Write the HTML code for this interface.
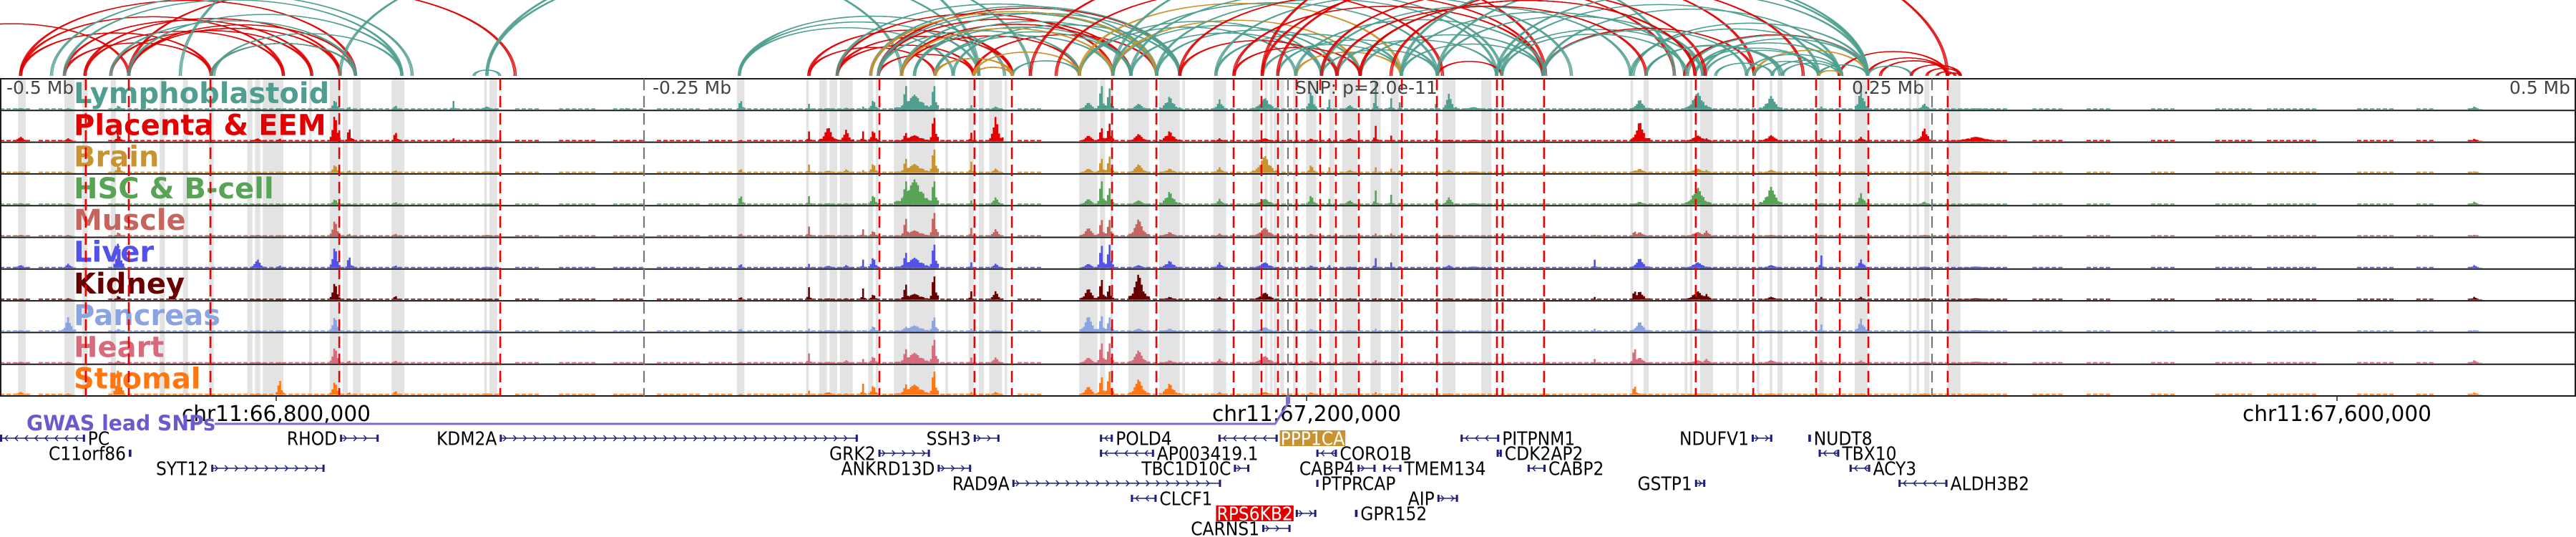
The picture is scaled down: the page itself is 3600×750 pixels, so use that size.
<!DOCTYPE html>
<html><head><meta charset="utf-8">
<style>
html,body{margin:0;padding:0;background:#fff;}
svg{display:block;}
</style></head>
<body>
<svg id="fig" xmlns="http://www.w3.org/2000/svg" width="3600" height="750" viewBox="0 0 3600 750">
<rect x="0" y="0" width="3600" height="750" fill="#fff"/>
<g id="arcs"></g>
<g id="bands"></g>
<g id="labels"></g>
<g id="tracks"></g>
<g id="frame"></g>
<g id="vlines"></g>
<g id="annot"></g>
<g id="genes"></g>
</svg>
<script>
// ---------- data ----------
const snpKb = 67192.78;            // lead SNP position (kb)
const windowKb = [-500, 500];      // window relative to SNP (kb)
const trackNames = ["Lymphoblastoid","Placenta & EEM","Brain","HSC & B-cell","Muscle","Liver","Kidney","Pancreas","Heart","Stromal"];
const trackColors = ["#4f9e8f","#e30000","#c9932f","#57a457","#c4665f","#5252e8","#680000","#8aa3e1","#d66b7b","#ff7613"];
const peakStart = [-495,-476,-456,-372,-366,-348,-403,-393,-325,-315,-258,-214,-187,-182,-174,-166,-163,-153,-150,-139,-133,-124,-116,-81,-74,-71,-62,-50,-29,-14,7,15,21,33,39,43,57,60,65,133,160,118,133,154,183,206,220,244,256,458];
const peakEnd   = [-489,-471,-452,-368,-363,-345,-397,-390,-323,-307,-256,-211,-185,-175,-169,-164,-159,-137,-147,-136,-132,-122,-111,-74,-71,-68,-54,-42,-24,-4,11,17,27,35,41,44,58,65,79,136,165,120,140,164,192,208,225,250,278,463];
const lymphoVals   = [.05,.05,.15,.35,.1,.15,.05,.05,.3,.1,.05,.35,.2,.05,.06,.1,.35,.5,1.0,1.0,.08,.15,.1,.25,1.0,.9,.2,.45,.35,.4,.7,.35,.15,1.0,.4,.45,.4,.55,.08,.1,.15,.05,.35,.6,.45,.1,.8,.2,.04,.1];
const placentaVals = [.15,.1,.25,1.0,.5,.35,.1,.1,.1,.05,.03,.05,.35,.5,.4,.35,.4,.2,.35,1.0,.05,.3,.85,.2,.55,.75,.25,.35,.1,.1,.1,.1,.1,.55,.2,.05,.2,.05,.05,.1,.1,.05,.7,.2,.2,.1,.15,.45,.15,.08];
const brainVals    = [.05,.05,.3,.3,.1,.1,.05,.05,.05,.05,.03,.15,.3,.08,.12,.1,.35,.3,.6,1.0,.05,.4,.15,.15,.6,.7,.3,.15,.2,.6,.3,.2,.1,.2,.15,.15,.1,.1,.05,.1,.1,.05,.15,.15,.1,.05,.05,.05,.05,.05];
const hscVals      = [.05,.05,.05,.2,.05,.1,.02,.02,.05,.03,.03,.35,.3,.05,.05,.05,.35,.85,1.0,1.0,.05,.15,.25,.2,1.0,.7,.15,.45,.2,.2,.35,.2,.15,.5,.35,.1,.3,.25,.05,.05,.1,.05,.1,.6,.6,.05,.4,.1,.03,.1];
const muscleVals   = [.05,.05,.15,.6,.1,.1,.05,.05,.02,.05,.02,.1,.35,.05,.05,.25,.2,.2,.75,1.0,.05,.3,.25,.3,.7,.7,.6,.15,.1,.3,.1,.05,.05,.1,.1,.05,.1,.05,.02,.2,.2,.05,.15,.15,.05,.05,.05,.05,.02,.05];
const liverVals    = [.1,.15,1.0,.8,.45,.1,.3,.1,.05,.05,.02,.15,.15,.08,.1,.3,.4,.35,.65,1.0,.05,.2,.15,.15,.95,1.0,.1,.25,.2,.2,.1,.1,.05,.35,.2,.1,.05,.1,.05,.05,.05,.3,.35,.2,.1,.45,.3,.05,.05,.1];
const kidneyVals   = [.03,.05,.15,.65,.05,.15,.03,.05,.02,.03,.02,.1,.45,.05,.05,.4,.2,.2,.65,1.0,.02,.3,.3,.4,.85,.6,.9,.1,.1,.25,.05,.05,.05,.05,.05,.05,.05,.05,.03,.35,.2,.1,.3,.3,.1,.1,.1,.05,.05,.1];
const pancreasVals = [.05,.5,.1,.55,.05,.05,.05,.05,.02,.05,.02,.1,.1,.05,.05,.05,.2,.2,.2,.6,.02,.1,.05,.55,.65,.6,.1,.1,.1,.15,.1,.05,.05,.1,.05,.05,.05,.05,.03,.05,.05,.1,.35,.1,.05,.25,.45,.05,.05,.05];
const heartVals    = [.05,.05,.1,.6,.1,.1,.05,.05,.03,.03,.02,.05,.35,.05,.1,.15,.25,.35,.6,1.0,.03,.2,.2,.2,.85,.85,.45,.1,.15,.25,.1,.05,.05,.1,.05,.05,.05,.05,.03,.6,.15,.15,.2,.1,.1,.1,.1,.05,.05,.1];
const stromalVals  = [.1,.05,1.0,.5,.1,.15,.05,.6,.02,.05,.03,.05,.15,.1,.05,.4,.35,.35,.45,1.0,.05,.1,.1,.3,.75,1.0,.55,.4,.1,.1,.1,.05,.05,.1,.05,.05,.05,.05,.03,.35,.05,.05,.05,.05,.05,.05,.05,.05,.03,.08];
const trackVals = [lymphoVals,placentaVals,brainVals,hscVals,muscleVals,liverVals,kidneyVals,pancreasVals,heartVals,stromalVals];
const bgLevel = [.06,.08,.08,.04,.04,.07,.05,.05,.05,.08];
const bgStart = [-500,-485,-458,-300,-283,-262,-245,-225,-210,-185,-105,-80,289,310,335,360,380,415,438,458];
const bgEnd   = [-489,-475,-306,-290,-270,-250,-230,-215,-185,-110,-95,278,300,320,345,375,400,428,445,463];
const bandStart = [-493,-475,-468,-457,-438,-429,-419,-404,-401,-398,-380,-372,-367,-363,-348,-312,-310,-309,-214,-187,-182,-178,-174,-163,-160,-153,-147,-133,-124,-120,-116,-110,-81,-73,-69,-62,-50,-41,-29,-14,-9,-7,-5.5,-3,2,7,16,21,32,40,60,75,133,138,154,156,160,174,182,187,190,206,220,241,244,247,256];
const bandEnd   = [-490,-471,-466,-455,-436,-427,-417,-402,-399,-390,-379,-368,-365,-360,-343,-311,-309,-307,-211,-186,-179,-175,-169,-161,-159,-148,-137,-132,-122,-118,-111,-109,-74,-71,-68,-54,-42,-40,-24,-11,-8,-6,-4.5,-1.5,3,11,18,27,36,43,65,79,134,140,155,157,165,175,183,188,192,208,225,242,245,249,261];
const snpLinePos = [-466.7,-450,-418.3,-368.3,-305.8,-158.6,-121.7,-107.2,-68.3,-51.1,-21.1,-10.3,-3.9,3.3,12.5,18.6,27.5,44.2,57.8,81.1,83.3,99.4,158.3,180.6,205,214.2,225.3,256.1];
const scaleLinePos = [-250,0,250];
const arcStart = [-492,-492,-475,-475,-467,-467,-457,-450,-450,-418,-492,-540,-450,-457,-475,-417,-418,-450,-368,-311,-311,-316,-213,-213,-213,-430,-480,
 -186,-175,-175,-162,-159,-159,-150,-137,-122,-122,-159,-186,-175,-150,-175,-162,-159,-150,-145,-137,-130,-159,-145,-137,-162,-150,-137,-122,-107,-122,
 -81,-81,-68,-68,-61,-51,-42,-28,-21,-10,-4,-68,-81,-51,-42,-61,3,13,19,28,44,58,-21,-10,-100,-68,3,13,28,-4,44,58,81,99,83,99,133,154,158,161,181,192,206,214,225,230,139,-28,-90,40,
 134,155,158,162,166,181,188,206,206,225,242,248,252,256,44,58,28,13,19,-10,81,99,83,139,178];
const arcEnd = [-418,-390,-418,-379,-390,-368,-379,-368,-362,-362,-362,-450,-300,-362,-344,-344,-362,-344,-150,-100,-120,-306,-130,-120,-110,-120,-340,
 -107,-107,-68,-51,-42,-61,-81,-107,-51,-107,-122,-137,-122,-61,-51,-42,-51,-42,-61,-68,-42,-81,-51,-61,-51,-68,-107,-81,-81,-107,
 3,13,19,28,13,28,19,44,28,44,58,58,44,81,99,83,44,58,81,99,99,83,99,150,100,150,100,133,158,181,154,161,161,181,206,214,214,225,206,225,225,214,225,256,256,256,192,110,60,200,
 225,225,215,206,188,206,215,225,215,242,261,261,259,261,225,225,158,162,139,256,225,178,155,191,215];
const arcTissue = [1,1,1,1,1,1,1,1,1,1,1,1,1,0,0,0,0,0,0,0,0,0,0,0,0,0,0,
 1,1,1,1,1,1,1,1,1,1,1,1,1,1,0,0,0,0,0,0,0,0,0,0,2,2,2,2,0,2,
 0,0,0,2,0,0,1,0,1,0,0,0,2,0,1,0,2,0,0,0,0,1,1,1,1,0,0,0,1,1,0,0,0,1,0,0,0,1,0,0,2,0,0,1,1,1,0,0,1,1,
 0,0,0,0,0,0,0,0,2,0,1,1,1,1,0,0,1,1,1,1,0,0,0,0,0];
const tissueColors = ["#4f9e8f","#e00000","#c9932f"];
const axisTicksKb = [66800, 67200, 67600];
const geneNames  = ["PC","C11orf86","RHOD","SYT12","KDM2A","SSH3","GRK2","ANKRD13D","RAD9A","POLD4","AP003419.1","TBC1D10C","CLCF1","PPP1CA","CORO1B","CABP4","TMEM134","PTPRCAP","RPS6KB2","GPR152","CARNS1","AIP","PITPNM1","CDK2AP2","CABP2","GSTP1","NDUFV1","NUDT8","TBX10","ACY3","ALDH3B2"];
const geneStart  = [-520,-450,-368,-418,-306,-122,-159,-136,-107,-73,-73,-21,-61,-27,11,27,37,11,3,26,-10,58,67,81,93,158,180,202,206,218,237];
const geneEnd    = [-467,-449,-353,-374,-167,-112,-139,-123,-26,-68,-52,-15,-51,-4,19,34,44,11.8,11,27,1,66,82,83,100,162,188,203,214,226,256];
const geneStrand = ["-","+","+","+","+","+","+","+","+","-","-","+","-","-","-","+","-","-","+","-","+","+","-","-","-","+","+","-","-","-","-"];
const geneRow    = [0,1,0,2,0,0,1,2,3,0,1,2,4,0,1,2,2,3,5,5,6,4,0,1,2,3,0,0,1,2,3];
const highlightGenes = ["PPP1CA","RPS6KB2"];
const highlightColors = ["#c8922e","#e00000"];

// ---------- helpers ----------
const NS = "http://www.w3.org/2000/svg";
const W = 3600;
function xOf(off){ return (off - windowKb[0]) / (windowKb[1]-windowKb[0]) * W; }
function xGenomic(kb){ return xOf(kb - snpKb); }
function mk(tag, parent, attrs){ const e=document.createElementNS(NS,tag); for(const k in attrs) e.setAttribute(k,attrs[k]); parent.appendChild(e); return e; }
const trackTop = 110, trackH = 44.3, nTracks = trackNames.length;
const arcBase = 106;

// arcs
const gArcs = document.getElementById("arcs");
for(let i=0;i<arcStart.length;i++){
  const x1=xOf(arcStart[i]), x2=xOf(arcEnd[i]);
  const rx=(x2-x1)/2, ry=rx*0.45;
  for(const d of [-1.6,0,1.6]){
    const p=mk("path",gArcs,{d:`M${x1+d} ${arcBase} A ${rx-d} ${ry} 0 0 1 ${x2-d} ${arcBase}`,fill:"none",stroke:tissueColors[arcTissue[i]],"stroke-width":1.3,"stroke-opacity":0.9});
    
    
  }
}

// gray bands
const gBands=document.getElementById("bands");
for(let i=0;i<bandStart.length;i++){
  const x1=xOf(bandStart[i]), x2=xOf(bandEnd[i]);
  const r=mk("rect",gBands,{x:x1,y:trackTop,width:Math.max(2,x2-x1),height:trackH*nTracks,fill:"#e3e3e3"});
  
  
}

// track labels
const gLab=document.getElementById("labels");
for(let t=0;t<nTracks;t++){
  const tx=mk("text",gLab,{x:103,y:trackTop+t*trackH+34,fill:trackColors[t],"font-family":"DejaVu Sans, Liberation Sans, sans-serif","font-weight":"bold","font-size":40});
  tx.textContent=trackNames[t];
  
  
}

// signal
const gTr=document.getElementById("tracks");
for(let t=0;t<nTracks;t++){
  const base=trackTop+(t+1)*trackH-1.5, maxH=trackH-3;
  const g=mk("g",gTr,{});
  
  
  let d="";
  for(let i=0;i<bgStart.length;i++){
    const x1=xOf(bgStart[i]), x2=xOf(bgEnd[i]), h=Math.max(1.5,bgLevel[t]*maxH*0.5);
    for(let x=x1;x<x2;x+=9){ d+=`M${x} ${base}h6v${-h}h-6z`; }
  }
  const bg=mk("path",g,{d:d,fill:trackColors[t]});
  
  
  const vals=trackVals[t];
  for(let i=0;i<peakStart.length;i++){
    const v=vals[i]||0; if(v<=0) continue;
    const x1=xOf(peakStart[i]), x2=Math.max(xOf(peakEnd[i]),x1+3), c=(x1+x2)/2, hw=(x2-x1)/2;
    let pd="";
    for(let x=x1;x<x2;x+=2.5){
      const tt=Math.min(1,Math.abs((x+1.25-c)/hw));
      const jag=0.7+0.3*Math.abs(Math.sin(x*1.7));
      const h=v*maxH*Math.max(0.15,Math.pow(1-tt,1.4))*(tt<0.2?1:jag);
      pd+=`M${x} ${base}h2.6v${-h}h-2.6z`;
    }
    const p=mk("path",g,{d:pd,fill:trackColors[t]});
    
    
  }
}

// frame
const gF=document.getElementById("frame");
for(let t=0;t<=nTracks;t++){
  const l=mk("line",gF,{x1:0,x2:W,y1:trackTop+t*trackH,y2:trackTop+t*trackH,stroke:"#1a1a1a","stroke-width":2});
  
  
}
for(const x of [1,W-1]){
  const l=mk("line",gF,{x1:x,x2:x,y1:trackTop,y2:trackTop+nTracks*trackH,stroke:"#1a1a1a","stroke-width":2});
  
  
}

// vertical lines
const gV=document.getElementById("vlines");
for(const off of scaleLinePos){
  const l=mk("line",gV,{x1:xOf(off),x2:xOf(off),y1:trackTop,y2:trackTop+nTracks*trackH,stroke:"#777","stroke-width":2.2,"stroke-dasharray":"16 8"});
  
  
}
for(const off of snpLinePos){
  const l=mk("line",gV,{x1:xOf(off),x2:xOf(off),y1:trackTop,y2:trackTop+nTracks*trackH,stroke:"#f00000","stroke-width":2.6,"stroke-dasharray":"16 8"});
  
  
}

// annotations
const gA=document.getElementById("annot");
const scaleLabels=[["-0.5 Mb",9,"start"],["-0.25 Mb",912,"start"],["SNP: p=2.0e-11",1810,"start"],["0.25 Mb",2588,"start"],["0.5 Mb",3592,"end"]];
for(const s of scaleLabels){
  const tx=mk("text",gA,{x:s[1],y:131,"text-anchor":s[2],fill:"#444","font-family":"DejaVu Sans, Liberation Sans, sans-serif","font-size":25});
  tx.textContent=s[0];
  
  
}
const yBot=trackTop+nTracks*trackH;
for(const kb of axisTicksKb){
  const x=xGenomic(kb);
  const tk=mk("line",gA,{x1:x,x2:x,y1:yBot,y2:yBot+7,stroke:"#222","stroke-width":1.5});
  
  
  const tx=mk("text",gA,{x:x,y:588,"text-anchor":"middle",fill:"#000","font-family":"DejaVu Sans Condensed, DejaVu Sans, sans-serif","font-size":30,textLength:264,lengthAdjust:"spacingAndGlyphs"});
  tx.textContent="chr11:"+kb.toLocaleString("en-US")+",000";
  
  
}
const snpX=xOf(0);
const gw=mk("polyline",gA,{points:`300,592 ${snpX-18},592 ${snpX},563`,fill:"none",stroke:"#7b6fd6","stroke-width":3});


const gm=mk("rect",gA,{x:snpX-3,y:553,width:6,height:11,fill:"#7b6fd6"});


const gt=mk("text",gA,{x:37,y:601,fill:"#6a5acd","font-family":"DejaVu Sans, Liberation Sans, sans-serif","font-weight":"bold","font-size":29,textLength:264,lengthAdjust:"spacingAndGlyphs"});
gt.textContent="GWAS lead SNPs";



// genes
const gG=document.getElementById("genes");
const gc="#1f1f7a";
for(let i=0;i<geneNames.length;i++){
  const y=612+geneRow[i]*21;
  const x1=Math.max(0,xOf(geneStart[i])), x2=Math.max(xOf(geneEnd[i]),x1+2);
  const g=mk("g",gG,{});
  
  
  const ln=mk("line",g,{x1:x1,x2:x2,y1:y,y2:y,stroke:gc,"stroke-width":1.6});
  
  
  let pts="";
  const dir=geneStrand[i]==="+"?1:-1;
  for(let cx=x1+8;cx<x2-5;cx+=14){ pts+=`M${cx-3*dir} ${y-4}L${cx+dir} ${y}L${cx-3*dir} ${y+4}`; }
  if(pts){ const ch=mk("path",g,{d:pts,fill:"none",stroke:gc,"stroke-width":1.4});
    
     }
  for(const ex of [x1,x2-3]){
    const r=mk("rect",g,{x:ex,y:y-5,width:3,height:10,fill:gc});
    
    
  }
  const hi=highlightGenes.indexOf(geneNames[i]);
  const left=geneStrand[i]==="+";
  const tx=mk("text",g,{x:left?x1-4:x2+4,y:y+9.5,"text-anchor":left?"end":"start",fill:hi>=0?"#fff":"#000","font-family":"DejaVu Sans Condensed, DejaVu Sans, sans-serif","font-size":26});
  tx.textContent=geneNames[i];
  
  
  if(hi>=0){
    const bb=tx.getBBox();
    const r=mk("rect",g,{x:bb.x-1,y:y-11,width:bb.width+2,height:22,fill:highlightColors[hi]});
    
    
    g.appendChild(tx);
  }
}
</script>
</body></html>
